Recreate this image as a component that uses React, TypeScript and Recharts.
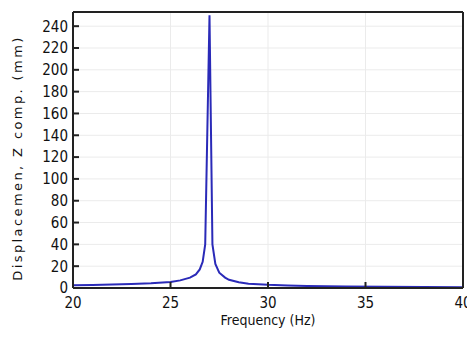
import React from 'react'
import {LineChart, Line, XAxis, YAxis, CartesianGrid, Label} from 'recharts'

// frequency sweep (Hz) and Z displacement (mm)
const freq = [20, 21, 22, 23, 24, 25, 25.5, 26, 26.3, 26.5, 26.65, 26.78, 27.0, 27.15, 27.3, 27.5, 27.8, 28, 28.5, 29, 30, 31, 32, 34, 36, 38, 40]
const disp = [2.5, 2.8, 3.1, 3.6, 4.4, 5.6, 7, 9.5, 12.5, 17, 24, 40, 250, 40, 22, 14, 9.5, 7.5, 5.2, 4, 2.9, 2.3, 1.9, 1.4, 1.1, 0.9, 0.8]
const xTicks = [20, 25, 30, 35, 40]
const yTicks = [0, 20, 40, 60, 80, 100, 120, 140, 160, 180, 200, 220, 240]

const data = freq.map((f, i) => ({f, z: disp[i]}))

const font = 'DejaVu Sans Condensed'
const frame = '#222'

const App: React.FC = () => {
  return (
    <div style={{position: 'fixed', left: 0, top: 0, background: '#fff'}}>
      <LineChart width={467} height={338} data={data} margin={{top: 11, right: 3, bottom: 0, left: 0}}>
        <CartesianGrid xAxisId="b" yAxisId="l" stroke="#ebebeb" strokeWidth={1} />
        <XAxis xAxisId="b" dataKey="f" type="number" domain={[20, 40]} ticks={xTicks} height={50} interval={0}
          axisLine={{stroke: frame, strokeWidth: 2}} tickLine={{stroke: frame, strokeWidth: 2}} tickSize={-6} tickMargin={15}
          tick={{fill: '#111', fontSize: 15, fontFamily: font}} allowDataOverflow>
          <Label value="Frequency (Hz)" position="insideBottom" offset={13} fill="#111" fontSize={14} fontFamily={font} />
        </XAxis>
        <XAxis xAxisId="t" orientation="top" dataKey="f" type="number" domain={[20, 40]} ticks={xTicks} height={1} interval={0}
          axisLine={{stroke: frame, strokeWidth: 2}} tickLine={{stroke: frame, strokeWidth: 2}} tickSize={-6} tick={false} />
        <YAxis yAxisId="l" domain={[0, 253]} ticks={yTicks} width={73} interval={0} allowDataOverflow
          axisLine={{stroke: frame, strokeWidth: 2}} tickLine={{stroke: frame, strokeWidth: 2}} tickSize={-6} tickMargin={11}
          tick={{fill: '#111', fontSize: 15, fontFamily: font}}>
          <Label value="Displacemen, Z comp. (mm)" angle={-90} position="insideLeft" offset={17} dy={8}
            fill="#111" fontSize={13} fontFamily="DejaVu Sans" letterSpacing={2.4} style={{textAnchor: 'middle'}} />
        </YAxis>
        <YAxis yAxisId="r" orientation="right" domain={[0, 253]} ticks={yTicks} width={1} interval={0}
          axisLine={{stroke: frame, strokeWidth: 2}} tickLine={{stroke: frame, strokeWidth: 2}} tickSize={-6} tick={false} />
        <Line xAxisId="b" yAxisId="l" dataKey="z" type="linear" stroke="#2a2ab8" strokeWidth={2} dot={false} isAnimationActive={false} />
      </LineChart>
    </div>
  )
}

export default App
